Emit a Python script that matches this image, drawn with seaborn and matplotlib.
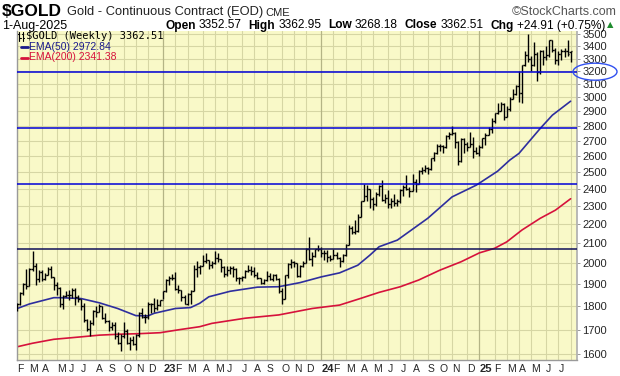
import numpy as np
import pandas as pd
import seaborn as sns
import matplotlib
matplotlib.use("Agg")
from matplotlib import pyplot as plt
from matplotlib.patches import Ellipse
from matplotlib.lines import Line2D
from matplotlib.ticker import FixedLocator, NullLocator

# weekly bars, week ending Friday
weeks = pd.date_range("2022-02-04", "2025-08-01", freq="W-FRI")

opens = [1796, 1808, 1860, 1900, 1890, 1970, 1986, 1922, 1958, 1926, 1945, 1974, 1934, 1897, 1882, 1811,
         1845, 1851, 1850, 1875, 1840, 1830, 1801, 1742, 1703, 1727, 1781, 1776, 1800, 1750, 1738, 1712,
         1718, 1675, 1645, 1672, 1695, 1644, 1657, 1640, 1677, 1769, 1754, 1755, 1810, 1810, 1793, 1805,
         1826, 1870, 1921, 1928, 1930, 1877, 1874, 1842, 1811, 1856, 1868, 1973, 1983, 1986, 2011, 2015,
         1990, 1999, 2025, 2019, 1981, 1946, 1969, 1977, 1971, 1930, 1929, 1932, 1960, 1966, 1960, 1942,
         1928, 1904, 1920, 1940, 1923, 1945, 1925, 1866, 1832, 1941, 1994, 2006, 1999, 1940, 1985, 2003,
         2072, 2020, 2035, 2069, 2072, 2050, 2052, 2030, 2020, 2040, 2025, 2010, 2040, 2090, 2180, 2160,
         2165, 2240, 2330, 2360, 2400, 2340, 2310, 2370, 2415, 2335, 2345, 2310, 2330, 2320, 2330, 2390,
         2410, 2400, 2385, 2440, 2430, 2505, 2515, 2525, 2520, 2585, 2620, 2665, 2665, 2655, 2730, 2745,
         2750, 2690, 2570, 2710, 2680, 2660, 2680, 2630, 2620, 2660, 2715, 2740, 2780, 2835, 2885, 2900,
         2955, 2860, 2915, 2990, 3025, 3085, 3035, 3245, 3330, 3300, 3245, 3335, 3190, 3360, 3315, 3330,
         3450, 3370, 3285, 3340, 3365, 3360, 3352.57]
highs = [1812, 1865, 1905, 1974, 1975, 2062, 2000, 1966, 1968, 1952, 1982, 1988, 1935, 1912, 1885, 1850,
         1870, 1874, 1880, 1880, 1850, 1830, 1812, 1745, 1740, 1784, 1800, 1810, 1802, 1772, 1740, 1730,
         1732, 1688, 1680, 1732, 1704, 1668, 1675, 1683, 1775, 1790, 1768, 1818, 1815, 1835, 1830, 1828,
         1870, 1925, 1937, 1949, 1955, 1895, 1875, 1850, 1860, 1875, 1993, 2010, 1990, 2040, 2048, 2015,
         2010, 2060, 2048, 2020, 1985, 1985, 1985, 1985, 1975, 1935, 1940, 1965, 1990, 1985, 1980, 1955,
         1930, 1925, 1960, 1952, 1950, 1950, 1930, 1880, 1945, 2000, 2020, 2010, 2000, 1990, 2010, 2075,
         2130, 2055, 2070, 2090, 2080, 2065, 2065, 2040, 2070, 2055, 2030, 2045, 2095, 2195, 2190, 2225,
         2255, 2330, 2430, 2420, 2400, 2350, 2380, 2420, 2450, 2370, 2390, 2345, 2370, 2340, 2400, 2420,
         2480, 2410, 2490, 2460, 2510, 2530, 2540, 2530, 2590, 2625, 2680, 2675, 2670, 2735, 2760, 2800,
         2760, 2700, 2720, 2720, 2690, 2760, 2725, 2660, 2670, 2720, 2750, 2790, 2850, 2890, 2960, 2970,
         2960, 2935, 3005, 3065, 3090, 3200, 3250, 3360, 3500, 3320, 3440, 3350, 3370, 3370, 3400, 3450,
         3455, 3390, 3365, 3375, 3390, 3450, 3362.95]
lows = [1780, 1807, 1850, 1878, 1890, 1960, 1895, 1910, 1915, 1918, 1943, 1928, 1872, 1850, 1797, 1787,
        1840, 1828, 1836, 1805, 1820, 1783, 1730, 1695, 1675, 1718, 1754, 1774, 1745, 1728, 1696, 1700,
        1660, 1640, 1615, 1665, 1640, 1617, 1638, 1616, 1670, 1747, 1727, 1745, 1770, 1775, 1785, 1800,
        1830, 1865, 1897, 1918, 1875, 1860, 1825, 1808, 1805, 1810, 1868, 1935, 1950, 1984, 2000, 1972,
        1975, 1995, 2005, 1955, 1935, 1937, 1950, 1935, 1913, 1900, 1915, 1930, 1958, 1945, 1935, 1925,
        1900, 1900, 1915, 1918, 1915, 1920, 1860, 1810, 1830, 1930, 1975, 1980, 1935, 1935, 1980, 2000,
        2015, 1985, 2030, 2060, 2030, 2015, 2005, 2010, 2020, 2020, 1980, 2005, 2035, 2090, 2150, 2150,
        2160, 2240, 2330, 2330, 2290, 2280, 2300, 2360, 2330, 2320, 2290, 2290, 2300, 2300, 2320, 2360,
        2395, 2350, 2385, 2380, 2430, 2490, 2500, 2490, 2510, 2570, 2615, 2630, 2620, 2650, 2710, 2735,
        2650, 2540, 2560, 2620, 2630, 2660, 2590, 2610, 2600, 2650, 2670, 2735, 2750, 2820, 2880, 2900,
        2840, 2860, 2900, 2990, 3015, 2970, 2960, 3240, 3270, 3200, 3240, 3120, 3180, 3250, 3290, 3310,
        3350, 3255, 3250, 3285, 3315, 3320, 3268.18]
closes = [1808, 1860, 1900, 1889, 1970, 1986, 1922, 1958, 1926, 1945, 1974, 1934, 1897, 1882, 1811, 1845,
          1851, 1850, 1875, 1840, 1830, 1801, 1742, 1703, 1727, 1781, 1776, 1800, 1750, 1738, 1712, 1718,
          1675, 1645, 1672, 1695, 1644, 1657, 1640, 1677, 1769, 1754, 1755, 1810, 1810, 1793, 1805, 1826,
          1870, 1921, 1928, 1930, 1877, 1874, 1842, 1811, 1856, 1868, 1973, 1983, 1986, 2011, 2015, 1990,
          1999, 2025, 2019, 1981, 1946, 1969, 1977, 1971, 1930, 1929, 1932, 1960, 1966, 1960, 1942, 1928,
          1904, 1920, 1940, 1923, 1945, 1925, 1866, 1832, 1941, 1994, 2006, 1999, 1940, 1985, 2003, 2072,
          2020, 2035, 2069, 2072, 2050, 2052, 2030, 2020, 2040, 2025, 2010, 2040, 2090, 2180, 2160, 2165,
          2240, 2330, 2360, 2400, 2340, 2310, 2370, 2415, 2335, 2345, 2310, 2330, 2320, 2330, 2390, 2410,
          2400, 2385, 2440, 2430, 2505, 2515, 2525, 2520, 2585, 2620, 2665, 2665, 2655, 2730, 2745, 2750,
          2690, 2570, 2710, 2680, 2660, 2680, 2630, 2620, 2660, 2715, 2740, 2780, 2835, 2885, 2900, 2955,
          2860, 2915, 2990, 3025, 3085, 3035, 3245, 3330, 3300, 3245, 3335, 3190, 3360, 3315, 3330, 3450,
          3370, 3285, 3340, 3365, 3360, 3337.6, 3362.51]

# moving averages (bar index, price)
ema50_idx = [0, 4, 12, 14, 21, 27, 33, 39, 43, 45, 52, 57, 60, 63, 70, 79, 86, 93, 100, 106, 112, 116,
             119, 125, 135, 143, 151, 158, 162, 165, 172, 176, 182]
ema50_val = [1790, 1810, 1838, 1838, 1834, 1815, 1790, 1759, 1758, 1769, 1790, 1794, 1813, 1842, 1867,
             1886, 1888, 1907, 1934, 1953, 1990, 2040, 2082, 2116, 2232, 2352, 2421, 2505, 2574, 2616,
             2781, 2873, 2972.84]
ema200_idx = [0, 5, 12, 21, 27, 34, 40, 47, 53, 60, 64, 75, 86, 97, 106, 113, 119, 126, 132, 139, 146,
              152, 157, 161, 166, 172, 177, 182]
ema200_val = [1630, 1644, 1660, 1670, 1677, 1681, 1683, 1687, 1699, 1712, 1726, 1748, 1762, 1790, 1805,
              1835, 1862, 1888, 1919, 1966, 2007, 2051, 2074, 2107, 2169, 2232, 2277, 2341.38]

trend_levels = [3195, 2785, 2428]
support_level = 2070
price_ticks = list(range(1600, 3600, 100))
quote = [("Open", "3352.57"), ("High", "3362.95"), ("Low", "3268.18"), ("Close", "3362.51"),
         ("Chg", "+24.91 (+0.75%)")]

W, H = 620, 376
sns.set_theme(style="white")
plt.rcParams['font.family'] = ['Liberation Sans', 'DejaVu Sans']

fig = plt.figure(figsize=(W / 100, H / 100), dpi=100)
ax = fig.add_axes([16.7 / W, 16 / H, (577 - 16.7) / W, (360 - 31) / H])
ax.set_facecolor("#F9F9C8")

idx = np.arange(len(weeks))
first_of_month = [i for i in idx if i == 0 or weeks[i].month != weeks[i - 1].month]
# the month that has only just started at the right edge gets no label
labelled = [i for i in first_of_month if i < len(weeks) - 2]

ax.set_yscale("log")
ax.set_ylim(1578, 3530)
ax.set_xlim(-0.2, 184.1)

# grid
for y in price_ticks:
    ax.axhline(y, color="#D6D6A4", lw=0.8, zorder=0)
for i in first_of_month:
    yr = weeks[i].month == 1
    ax.axvline(i, color="#B4B486" if yr else "#D6D6A4", lw=0.9 if yr else 0.8, zorder=0)

# OHLC bars
ax.vlines(idx, lows, highs, color="black", lw=1.0, zorder=3)
ax.hlines(opens, idx - 0.5, idx, color="black", lw=1.0, zorder=3)
ax.hlines(closes, idx, idx + 0.5, color="black", lw=1.0, zorder=3)

sns.lineplot(x=ema50_idx, y=ema50_val, color="#2E2E9E", lw=1.2, ax=ax, zorder=2)
sns.lineplot(x=ema200_idx, y=ema200_val, color="#D6123C", lw=1.2, ax=ax, zorder=2)

for lv in trend_levels:
    ax.axhline(lv, color="#0000D8", lw=1.1, zorder=4)
ax.axhline(support_level, color="#10105A", lw=1.1, zorder=4)

ax.yaxis.tick_right()
ax.yaxis.set_major_locator(FixedLocator(price_ticks))
ax.yaxis.set_minor_locator(NullLocator())
ax.set_yticklabels([str(t) for t in price_ticks])
ax.tick_params(axis="y", length=2, width=0.6, color="#888888", pad=2, labelsize=8)

labels = []
for i in labelled:
    d = weeks[i]
    labels.append(str(d.year)[2:] if d.month == 1 else d.strftime("%b")[0])
ax.set_xticks(labelled)
ax.set_xticklabels(labels)
ax.tick_params(axis="x", length=0, pad=3, labelsize=7.5)
for i, t in zip(labelled, ax.get_xticklabels()):
    if weeks[i].month == 1:
        t.set_fontweight("bold")
        t.set_fontsize(8)
        t.set_horizontalalignment("left")
        t.set_x(i - 1.3)
    else:
        t.set_horizontalalignment("left")
ax.set_xlabel("")
ax.set_ylabel("")

for s in ["left", "bottom"]:
    ax.spines[s].set_color("#9A9A9A")
    ax.spines[s].set_linewidth(1.0)
ax.spines["top"].set_visible(False)
ax.spines["right"].set_color("#B0B0B0")
ax.spines["right"].set_linestyle((0, (1, 1)))


def ftext(x, y, s, **kw):
    return fig.text(x / W, 1 - y / H, s, va="center", **kw)


# header
ftext(2, 12, "$GOLD", fontsize=12.5, fontweight="bold", color="black")
ftext(67, 12, "Gold - Continuous Contract (EOD)", fontsize=9.3, color="#222222")
ftext(265, 12.5, "CME", fontsize=8, color="#222222")
ftext(617, 12, "\u00a9StockCharts.com", fontsize=9, color="#555555", ha="right")

ftext(2, 25.5, "1-Aug-2025", fontsize=9, color="black")
renderer = fig.canvas.get_renderer()
x = 165
for lab, val in quote:
    t = ftext(x, 25.5, lab, fontsize=8.6, fontweight="bold", color="black")
    x += t.get_window_extent(renderer).width + 3
    t = ftext(x, 25.5, val, fontsize=8.6, color="black")
    x += t.get_window_extent(renderer).width + 7
ftext(x - 5, 25, "\u25b2", fontsize=6, color="#1E8C2E", family="DejaVu Sans")

# legend
ftext(26, 36, "$GOLD (Weekly) 3362.51", fontsize=7.5, color="black", family="DejaVu Sans Mono")
for dx in (0, 4):
    fig.add_artist(Line2D([(19 + dx) / W] * 2, [1 - 32 / H, 1 - 40.5 / H], color="black", lw=0.8))
    fig.add_artist(Line2D([(17.5 + dx) / W, (19 + dx) / W], [1 - 34 / H] * 2, color="black", lw=0.8))
    fig.add_artist(Line2D([(19 + dx) / W, (20.5 + dx) / W], [1 - 38 / H] * 2, color="black", lw=0.8))
fig.add_artist(Line2D([21 / W, 28 / W], [1 - 47 / H] * 2, color="#1A1A8C", lw=2))
ftext(29, 47, "EMA(50) 2972.84", fontsize=7.5, color="#1A1A8C")
fig.add_artist(Line2D([21 / W, 28 / W], [1 - 57.5 / H] * 2, color="#D6123C", lw=2))
ftext(29, 57.5, "EMA(200) 2341.38", fontsize=7.5, color="#D6123C")

# circled label
fig.add_artist(Ellipse((595 / W, 1 - 71.7 / H), 44 / W, 17 / H, transform=fig.transFigure,
                       fill=False, edgecolor="#3050F0", lw=1.0))

fig.savefig("out.png", dpi=100, facecolor="white")
